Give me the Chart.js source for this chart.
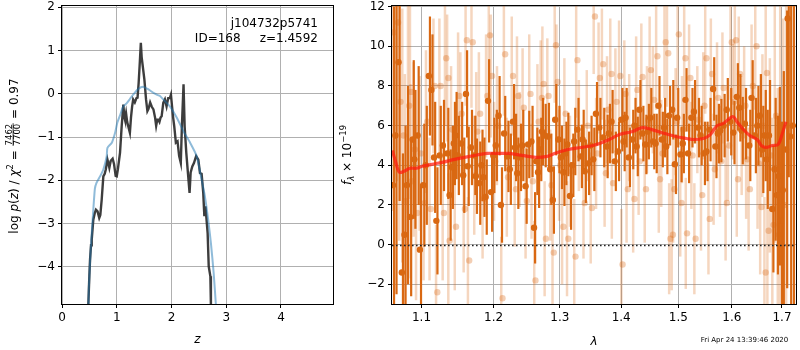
<!DOCTYPE html>
<html>
<head>
<meta charset="utf-8">
<script src="https://cdn.jsdelivr.net/npm/chart.js@4/dist/chart.umd.min.js"></script>
<style>
  html, body { margin: 0; padding: 0; background: #fff; }
  #wrap { position: relative; width: 800px; height: 350px; overflow: hidden; }
  canvas { position: absolute; top: 0; }
  #pz { left: 0; }
  #spec { left: 336px; }
</style>
</head>
<body>
<div id="wrap">
  <canvas id="pz" width="336" height="350"></canvas>
  <canvas id="spec" width="464" height="350"></canvas>
</div>
<script>
// ---- p(z) panel -------------------------------------------------------
const zTicks = [0, 1, 2, 3, 4];
const logpTicks = [-4, -3, -2, -1, 0, 1, 2];

// black curve: log p(z) from the fit
const zFit = [0.47,0.48,0.50,0.512,0.53,0.543,0.56,0.572,0.60,0.62,0.65,0.68,0.70,0.725,0.755,0.78,0.80,0.83,0.85,0.865,
  0.89,0.925,0.95,0.98,1.00,1.02,1.06,1.09,1.12,1.14,1.15,1.17,1.19,1.21,1.24,1.26,1.28,1.30,1.33,1.36,
  1.38,1.40,1.42,1.44,1.455,1.475,1.505,1.535,1.56,1.58,1.61,1.64,1.67,1.70,1.72,1.74,1.76,1.78,1.80,1.82,
  1.85,1.88,1.91,1.94,1.97,1.99,2.01,2.03,2.05,2.08,2.11,2.14,2.17,2.19,2.22,2.24,2.27,2.30,2.33,2.35,
  2.38,2.41,2.45,2.49,2.52,2.55,2.58,2.60,2.62,2.66,2.68,2.71,2.72,2.73];
const logpFit = [-5.6,-4.9,-4.2,-3.84,-3.5,-3.37,-3.1,-2.91,-2.75,-2.68,-2.72,-2.87,-2.8,-2.45,-1.91,-1.85,-1.75,-1.52,-1.62,-1.71,
  -1.55,-1.5,-1.62,-1.9,-1.91,-1.75,-1.36,-0.75,-0.25,-0.55,-0.6,-0.45,-0.65,-0.75,-0.9,-0.55,-0.3,-0.13,-0.2,-0.1,
  -0.09,0.25,0.7,1.18,0.85,0.64,0.33,-0.13,-0.4,-0.35,-0.2,-0.3,-0.36,-0.55,-0.74,-0.6,-0.6,-0.65,-0.55,-0.52,
  -0.21,-0.13,-0.29,-0.1,-0.1,-0.02,-0.29,-0.55,-0.75,-1.13,-1.1,-1.44,-1.6,-0.75,0.22,-0.75,-1.36,-1.83,-2.29,-1.82,
  -1.68,-1.6,-1.44,-1.52,-1.83,-1.85,-2.29,-2.83,-2.6,-3.22,-3.99,-4.22,-4.9,-5.6];

// blue curve: prior / photo-z
const zPrior = [0.47,0.49,0.52,0.55,0.60,0.63,0.695,0.755,0.817,0.83,0.91,0.97,1.01,1.06,1.12,1.18,1.24,1.30,1.40,1.49,
  1.58,1.67,1.73,1.79,1.85,1.97,2.10,2.22,2.34,2.46,2.55,2.61,2.67,2.72,2.77,2.81,2.85];
const logpPrior = [-5.6,-4.5,-3.7,-3.1,-2.2,-2.06,-1.91,-1.75,-1.44,-1.25,-1.13,-0.9,-0.67,-0.5,-0.29,-0.22,-0.12,-0.02,0.12,0.16,
  0.1,0.02,-0.02,-0.05,-0.13,-0.29,-0.56,-0.87,-1.13,-1.44,-1.98,-2.37,-2.91,-3.45,-4.14,-4.86,-5.6];

const objName = "j104732p5741";
const objInfo = "ID=168     z=1.4592";

// ---- spectrum panel ---------------------------------------------------
const lamTicks = [1.1, 1.2, 1.3, 1.4, 1.5, 1.6, 1.7];
const fluxTicks = [-2, 0, 2, 4, 6, 8, 10, 12];

const darkLam = [1.0627,1.0659,1.0699,1.0742,1.0776,1.0808,1.0849,1.0883,1.0905,1.0948,
  1.0979,1.1023,1.1056,1.1098,1.1132,1.1168,1.1199,1.1244,1.1288,1.1347,
  1.1379,1.1410,1.1438,1.1461,1.1492,1.1538,1.1568,1.1607,1.1630,1.1676,
  1.1723,1.1746,1.1793,1.1825,1.1853,1.1886,1.1920,1.1963,1.1996,1.2032,
  1.2072,1.2107,1.2154,1.2202,1.2237,1.2285,1.2315,1.2348,1.2388,1.2422,
  1.2473,1.2512,1.2562,1.2601,1.2635,1.2662,1.2695,1.2722,1.2763,1.2813,
  1.2850,1.2890,1.2927,1.2977,1.3016,1.3055,1.3086,1.3117,1.3160,1.3196,
  1.3227,1.3279,1.3333,1.3362,1.3397,1.3450,1.3490,1.3535,1.3579,1.3635,
  1.3698,1.3754,1.3792,1.3837,1.3891,1.3945,1.4002,1.4040,1.4074,1.4129,
  1.4186,1.4225,1.4264,1.4310,1.4361,1.4413,1.4456,1.4499,1.4551,1.4594,
  1.4643,1.4702,1.4743,1.4783,1.4831,1.4889,1.4937,1.4978,1.5039,1.5080,
  1.5129,1.5176,1.5238,1.5285,1.5358,1.5408,1.5469,1.5518,1.5574,1.5643,
  1.5686,1.5732,1.5779,1.5841,1.5902,1.5968,1.6031,1.6096,1.6146,1.6192,
  1.6256,1.6340,1.6387,1.6451,1.6501,1.6550,1.6599,1.6648,1.6688,1.6734,
  1.6802,1.6848,1.6894,1.6934,1.6978,1.7015,1.7084,1.7117,1.7167,1.7225];
const darkFlux = [3.0,5.5,9.2,-1.4,0.5,3.0,1.4,5.3,4.3,5.5,
  -0.25,3.0,4.0,8.5,7.8,4.4,1.2,4.5,5.0,4.6,
  2.5,3.9,5.1,5.5,4.5,5.1,3.5,7.6,3.95,4.9,
  4.5,3.45,3.1,4.0,3.4,2.4,7.25,2.65,4.5,5.0,
  6.5,2.0,5.6,4.45,3.8,6.2,4.9,3.6,4.4,5.0,
  2.95,5.05,5.2,0.85,4.2,3.65,4.8,5.7,5.5,5.45,
  3.8,2.25,6.3,5.3,4.4,3.65,4.6,5.05,2.45,4.0,
  5.2,5.8,4.45,5.3,3.7,4.1,5.0,4.3,6.6,5.9,
  5.4,4.95,5.6,6.2,4.2,4.7,6.3,5.2,6.4,4.4,
  5.3,6.0,4.95,6.8,5.6,5.05,5.7,6.4,5.2,5.1,
  7.0,5.3,5.9,4.95,6.5,6.8,4.05,6.4,4.55,5.1,
  7.3,4.6,6.4,6.7,5.9,5.5,4.6,4.7,5.8,7.85,
  4.95,5.6,5.75,6.0,6.8,6.2,5.65,7.45,6.9,5.75,
  6.1,5.0,7.4,5.5,6.0,6.5,4.8,5.5,4.3,5.5,
  1.8,3.8,2.5,3.45,1.2,2.75,4.8,11.4,5.45,6.0];
const darkErr = [9,8,7,6,5.5,5,4,4,3.5,3.5,
  3.3,3.1,3.0,3.0,2.8,2.8,2.7,2.5,2.3,2.3,
  2.3,2.1,2.1,2.2,2.0,2.1,1.9,2.2,2.0,1.9,
  2.0,1.9,2.1,1.8,2.0,1.9,2.1,2.0,1.9,1.8,
  2.0,1.9,1.9,1.8,1.8,1.9,1.7,1.8,1.7,1.8,
  1.9,1.7,1.8,1.8,1.7,1.8,1.6,1.7,1.6,1.7,
  1.8,1.7,1.8,1.7,1.6,1.7,1.6,1.6,1.7,1.6,
  1.7,1.6,1.6,1.5,1.6,1.6,1.5,1.6,1.6,1.5,
  1.5,1.6,1.5,1.6,1.5,1.5,1.6,1.5,1.5,1.5,
  1.5,1.4,1.5,1.5,1.4,1.5,1.4,1.5,1.4,1.5,
  1.5,1.4,1.5,1.4,1.5,1.5,1.5,1.5,1.4,1.5,
  1.6,1.5,1.5,1.6,1.5,1.5,1.6,1.5,1.6,1.6,
  1.6,1.5,1.6,1.6,1.6,1.7,1.6,1.7,1.7,1.7,
  1.8,1.8,1.9,1.9,2.0,2.1,2.2,2.3,2.5,2.8,
  3.2,3.6,4.0,4.5,5,6,7,8,9,12];

const lightLam = [1.0637,1.0693,1.0725,1.0764,1.0797,1.0838,1.0864,1.0872,1.0912,1.0944,
  1.0992,1.1044,1.1076,1.1124,1.1177,1.1212,1.1257,1.1302,1.1333,1.1363,
  1.1379,1.1417,1.1468,1.1514,1.1546,1.1592,1.1619,1.1652,1.1702,1.1741,
  1.1769,1.1807,1.1860,1.1910,1.1949,1.1978,1.2025,1.2068,1.2130,1.2169,
  1.2212,1.2285,1.2329,1.2363,1.2403,1.2447,1.2492,1.2547,1.2582,1.2623,
  1.2672,1.2722,1.2748,1.2783,1.2824,1.2870,1.2905,1.2939,1.2966,1.3008,
  1.3055,1.3091,1.3133,1.3180,1.3248,1.3279,1.3322,1.3397,1.3450,1.3514,
  1.3563,1.3602,1.3643,1.3698,1.3743,1.3783,1.3837,1.3863,1.3923,1.3985,
  1.4023,1.4074,1.4112,1.4157,1.4225,1.4276,1.4319,1.4366,1.4425,1.4464,
  1.4511,1.4568,1.4625,1.4672,1.4716,1.4773,1.4818,1.4857,1.4902,1.4928,
  1.4973,1.5009,1.5057,1.5089,1.5129,1.5158,1.5219,1.5261,1.5316,1.5371,
  1.5439,1.5481,1.5518,1.5579,1.5624,1.5676,1.5741,1.5797,1.5844,1.5905,
  1.5949,1.6000,1.6045,1.6083,1.6121,1.6160,1.6217,1.6265,1.6304,1.6353,
  1.6412,1.6485,1.6530,1.6583,1.6628,1.6668,1.6694,1.6728,1.6778,1.6828,
  1.6878,1.6939,1.6989,1.7050,1.7111];
const lightFlux = [10.7,11.2,7.2,5.5,2.2,7.0,7.7,3.2,4.8,1.6,
  4.6,2.1,6.2,1.8,8.0,-2.4,8.0,1.6,9.4,8.4,
  0.2,5.8,0.9,7.5,6.6,1.8,10.3,-0.8,10.2,3.5,
  5.7,6.6,2.3,7.5,10.55,8.5,4.2,6.0,-2.7,9.6,
  3.4,8.5,2.8,7.5,4.8,6.9,2.2,7.6,3.2,-1.8,
  6.2,7.4,8.1,0.3,7.5,3.0,-0.4,10.05,8.2,4.0,
  0.9,6.6,0.3,3.7,-0.6,9.3,5.5,2.1,6.0,1.85,
  11.5,4.6,8.4,9.1,3.6,6.8,8.6,3.1,7.2,8.5,
  -1.0,7.6,2.8,5.9,2.3,7.8,4.2,8.45,2.8,6.3,
  8.8,7.3,9.5,3.3,4.6,10.2,9.65,0.3,0.5,2.8,
  6.2,10.6,2.1,5.8,9.4,0.57,8.4,4.5,0.3,6.3,
  2.5,7.0,9.4,1.3,8.6,3.8,7.4,4.2,7.9,2.1,
  5.0,10.2,7.2,10.3,3.3,8.6,5.5,7.0,4.3,2.8,
  8.0,10.0,4.1,1.9,6.0,-1.4,8.65,0.7,4.5,1.0,
  6.5,0.5,4.0,2.0,6.0];
const lightErr = [9,8,7,6.4,6.4,5.4,5.4,4.9,4.4,4.4,
  3.9,3.9,3.6,3.6,3.4,3.4,3.4,3.4,3.4,3.2,
  3.4,3.2,3.2,3.2,3.1,3.2,3.3,3.2,3.3,3.0,
  3.0,3.1,3.0,3.1,3.2,3.1,3.0,3.0,3.1,3.1,
  3.0,3.0,2.9,3.0,2.9,3.0,2.9,3.0,2.9,3.0,
  2.9,2.9,2.9,2.9,2.9,2.8,2.9,2.9,2.9,2.8,
  2.9,2.8,2.9,2.8,2.9,2.9,2.8,2.8,2.8,2.8,
  2.9,2.8,2.8,2.8,2.7,2.7,2.8,2.8,2.7,2.8,
  2.8,2.7,2.7,2.7,2.7,2.7,2.7,2.7,2.7,2.7,
  2.7,2.7,2.7,2.7,2.7,2.8,2.7,2.8,2.8,2.7,
  2.7,2.8,2.7,2.7,2.8,2.8,2.7,2.7,2.8,2.7,
  2.8,2.7,2.8,2.8,2.8,2.8,2.8,2.8,2.8,2.9,
  2.8,2.9,2.9,2.9,2.9,2.9,3.0,3.0,3.0,3.1,
  3.1,3.2,3.3,3.4,3.6,3.8,3.9,4.2,4.9,5.4,
  6.4,7.4,8.4,9.4,10.4];

// red model curve
const modelLam = [1.062,1.066,1.071,1.077,1.085,1.093,1.101,1.114,1.128,1.145,
  1.166,1.191,1.208,1.223,1.242,1.263,1.280,1.294,1.313,1.334,
  1.353,1.364,1.380,1.397,1.419,1.436,1.453,1.476,1.495,1.515,
  1.528,1.546,1.559,1.572,1.583,1.602,1.610,1.621,1.635,1.650,
  1.658,1.668,1.680,1.692,1.700,1.708];
const modelFlux = [4.75,4.2,3.65,3.7,3.85,3.85,3.95,4.05,4.15,4.3,
  4.45,4.6,4.6,4.6,4.5,4.4,4.45,4.62,4.8,4.9,
  5.0,5.1,5.3,5.55,5.7,5.9,5.8,5.6,5.45,5.35,
  5.3,5.35,5.55,6.0,6.1,6.45,6.2,5.85,5.5,5.3,
  5.0,4.9,5.0,5.05,5.55,6.2];

const stamp = "Fri Apr 24 13:39:46 2020";

// ---- helpers ----------------------------------------------------------
const FAM = "'DejaVu Sans', sans-serif";
const R = `12px ${FAM}`, I = `italic 12px ${FAM}`, S = `8.5px ${FAM}`, SI = `italic 8.5px ${FAM}`;
const DARK = "rgb(217,104,18)";
const LIGHT_BAR = "rgba(217,104,18,0.27)";
const LIGHT_DOT = "rgba(217,104,18,0.32)";

Chart.defaults.font.family = FAM;
Chart.defaults.font.size = 12;
Chart.defaults.color = "#000";

const minus = v => String(v).replace("-", "\u2212");
const pts = (xs, ys) => xs.map((x, i) => ({ x, y: ys[i] }));
// floating bars [flux - err, flux + err]
const errBars = (xs, ys, es) => xs.map((x, i) => ({ x, y: [ys[i] - es[i], ys[i] + es[i]] }));

function drawRich(ctx, parts, cx, cy, rotate) {
  ctx.save();
  ctx.translate(cx, cy);
  if (rotate) ctx.rotate(-Math.PI / 2);
  ctx.fillStyle = "#000";
  ctx.textBaseline = "alphabetic";
  ctx.textAlign = "left";
  let total = 0;
  for (const p of parts) {
    ctx.font = p.font;
    p.w = p.num ? Math.max(ctx.measureText(p.num).width, ctx.measureText(p.den).width) + 2
                : ctx.measureText(p.text).width;
    total += p.w;
  }
  let x = -total / 2;
  for (const p of parts) {
    ctx.font = p.font;
    if (p.num) {
      ctx.textAlign = "center";
      ctx.fillText(p.num, x + p.w / 2, -6.2);
      ctx.fillText(p.den, x + p.w / 2, 1.6);
      ctx.fillRect(x + 0.5, -5.3, p.w - 1, 0.8);
      ctx.textAlign = "left";
    } else {
      ctx.fillText(p.text, x, p.dy || 0);
    }
    x += p.w;
  }
  ctx.restore();
}

const frame = {
  id: "frame",
  afterDraw(chart) {
    const { ctx, chartArea: a } = chart;
    ctx.save();
    ctx.strokeStyle = "#000";
    ctx.lineWidth = 1;
    ctx.strokeRect(Math.round(a.left) - 0.5, Math.round(a.top) - 0.5,
      Math.round(a.right - a.left) + 1, Math.round(a.bottom - a.top) + 1);
    ctx.restore();
  }
};

function gridScale(extra) {
  return Object.assign({
    offset: false,
    grid: { color: "#b0b0b0", lineWidth: 1, tickColor: "#000", tickLength: 4, drawTicks: true, offset: false },
    border: { display: false },
    ticks: { color: "#000", autoSkip: false, maxRotation: 0, padding: 3 }
  }, extra);
}
// fixed box sizes, no extra room for overflowing end labels
const fixBox = (w, h) => s => {
  if (w) s.width = w;
  if (h) s.height = h;
  s.paddingTop = 0; s.paddingBottom = 0; s.paddingLeft = 0; s.paddingRight = 0;
};

// ---- left chart -------------------------------------------------------
const pzLabel = [
  { text: "log ", font: R }, { text: "p", font: I }, { text: "(", font: R }, { text: "z", font: I },
  { text: ") / ", font: R }, { text: "\u03c7", font: I }, { text: "2", font: S, dy: -5 },
  { text: " = ", font: R }, { num: "7462", den: "7700", font: S }, { text: " = 0.97", font: R }
];

const pzText = {
  id: "pzText",
  afterDraw(chart) {
    const { ctx, chartArea: a } = chart;
    drawRich(ctx, pzLabel, 18, 156, true);
    ctx.save();
    ctx.fillStyle = "#000";
    ctx.font = R;
    ctx.textAlign = "right";
    ctx.fillText(objName, a.right - 15, a.top + 21);
    ctx.fillText(objInfo, a.right - 15, a.top + 35.5);
    ctx.font = I;
    ctx.textAlign = "center";
    ctx.fillText("z", (a.left + a.right) / 2, 343);
    ctx.restore();
  }
};

new Chart(document.getElementById("pz"), {
  type: "line",
  data: {
    datasets: [
      { data: pts(zPrior, logpPrior), borderColor: "rgba(31,119,180,0.5)", borderWidth: 2,
        pointRadius: 0, tension: 0.2, order: 1 },
      { data: pts(zFit, logpFit), borderColor: "rgba(45,45,45,0.92)", borderWidth: 2.4,
        pointRadius: 0, tension: 0, order: 2 }
    ]
  },
  options: {
    responsive: false, animation: false, events: [],
    layout: { padding: { left: 0, right: 3, top: 6, bottom: 0 } },
    plugins: { legend: { display: false }, tooltip: { enabled: false } },
    scales: {
      x: gridScale({ type: "linear", min: 0, max: 4.95,
        afterBuildTicks: s => { s.ticks = zTicks.map(v => ({ value: v })); },
        afterFit: fixBox(0, 46) }),
      y: gridScale({ type: "linear", min: -4.86, max: 2.03,
        afterBuildTicks: s => { s.ticks = logpTicks.map(v => ({ value: v })); },
        afterFit: fixBox(62, 0) })
    }
  },
  plugins: [frame, pzText]
});
Chart.getChart("pz").options.scales.y.ticks.callback = v => minus(v);
Chart.getChart("pz").update();

// ---- right chart ------------------------------------------------------
const fLabel = [
  { text: "f", font: I }, { text: "\u03bb", font: SI, dy: 3 },
  { text: " \u00d7 10", font: R }, { text: "\u221219", font: S, dy: -5 }
];

const specText = {
  id: "specText",
  afterDatasetsDraw(chart) {
    const { ctx, chartArea: a, scales } = chart;
    const y0 = Math.round(scales.y.getPixelForValue(0)) + 0.5;
    ctx.save();
    ctx.strokeStyle = "#222";
    ctx.lineWidth = 1.6;
    ctx.setLineDash([1.6, 2.4]);
    ctx.beginPath();
    ctx.moveTo(a.left, y0);
    ctx.lineTo(a.right, y0);
    ctx.stroke();
    ctx.restore();
  },
  afterDraw(chart) {
    const { ctx, chartArea: a } = chart;
    drawRich(ctx, fLabel, 14.5, 155, true);
    ctx.save();
    ctx.fillStyle = "#000";
    ctx.font = I;
    ctx.textAlign = "center";
    ctx.fillText("\u03bb", (a.left + a.right) / 2, 345);
    ctx.font = `7px ${FAM}`;
    ctx.fillText(stamp, 408.5, 342);
    ctx.restore();
  }
};

const lamScale = extra => gridScale(Object.assign({ type: "logarithmic", min: 1.0615, max: 1.729 }, extra));

new Chart(document.getElementById("spec"), {
  type: "line",
  data: {
    datasets: [
      { type: "bar", xAxisID: "xl", data: errBars(lightLam, lightFlux, lightErr), backgroundColor: LIGHT_BAR,
        barThickness: 2.5, inflateAmount: 0, borderWidth: 0, order: 5 },
      { data: pts(lightLam, lightFlux), showLine: false, pointRadius: 3.2, pointBorderWidth: 0,
        pointBackgroundColor: LIGHT_DOT, order: 4 },
      { type: "bar", xAxisID: "x", data: errBars(darkLam, darkFlux, darkErr), backgroundColor: DARK,
        barThickness: 2.2, inflateAmount: 0, borderWidth: 0, order: 3 },
      { data: pts(darkLam, darkFlux), showLine: false, pointRadius: 3.2, pointBorderWidth: 0,
        pointBackgroundColor: DARK, order: 2 },
      { data: pts(modelLam, modelFlux), borderColor: "rgba(255,25,15,0.72)", borderWidth: 3.2,
        pointRadius: 0, tension: 0.35, order: 1 }
    ]
  },
  options: {
    responsive: false, animation: false, events: [],
    layout: { padding: { left: 0, right: 1, top: 6, bottom: 0 } },
    plugins: { legend: { display: false }, tooltip: { enabled: false } },
    scales: {
      x: lamScale({
        afterBuildTicks: s => { s.ticks = lamTicks.map(v => ({ value: v })); },
        afterFit: fixBox(0, 46) }),
      xl: lamScale({ display: false, position: "bottom" }),
      y: gridScale({ type: "linear", min: -2.99, max: 12.03,
        afterBuildTicks: s => { s.ticks = fluxTicks.map(v => ({ value: v })); },
        afterFit: fixBox(56, 0) })
    }
  },
  plugins: [frame, specText]
});
const spec = Chart.getChart("spec");
spec.options.scales.x.ticks.callback = v => Number(v).toFixed(1);
spec.options.scales.y.ticks.callback = v => minus(v);
spec.update();
</script>
</body>
</html>
